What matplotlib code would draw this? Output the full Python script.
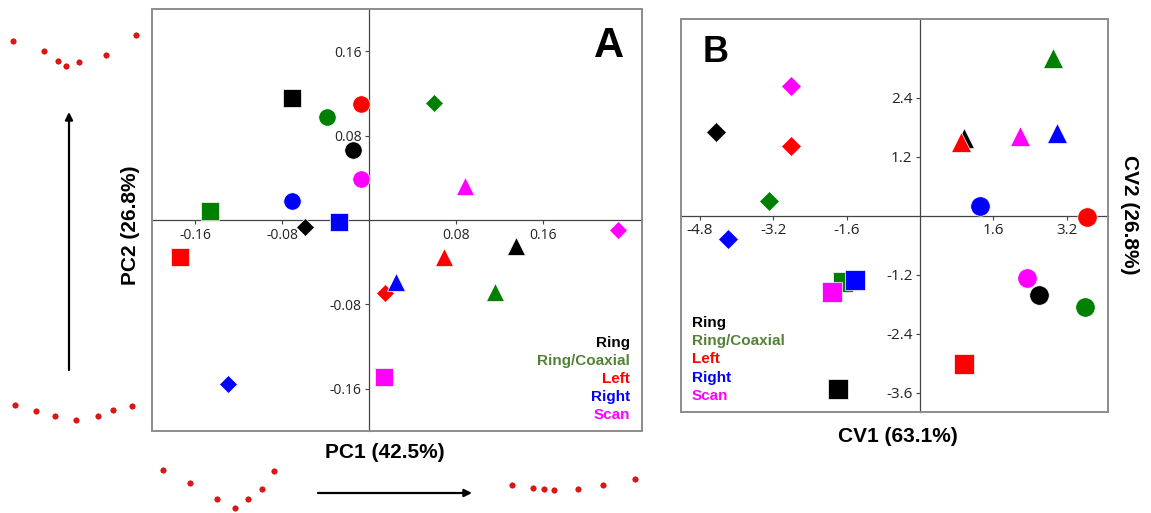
import matplotlib
matplotlib.use("Agg")
import matplotlib.pyplot as plt
from matplotlib.patches import Rectangle

# ---- data -------------------------------------------------------------
groups = ["Ring", "Ring/Coaxial", "Left", "Right", "Scan"]
marker_colors = ["#000000", "#008000", "#ff0000", "#0000ff", "#ff00ff"]
legend_colors = ["#000000", "#548235", "#ff0000", "#0000ff", "#ff00ff"]
shapes = ["s", "o", "D", "^"]

# PCA scores: one row per group, columns follow `shapes`
pc1 = [
    [-0.071, -0.015, -0.059, 0.135],
    [-0.147, -0.039, 0.060, 0.116],
    [-0.174, -0.007, 0.015, 0.069],
    [-0.028, -0.071, -0.130, 0.025],
    [0.014, -0.007, 0.229, 0.088],
]
pc2 = [
    [0.116, 0.066, -0.007, -0.025],
    [0.009, 0.098, 0.111, -0.068],
    [-0.035, 0.110, -0.069, -0.035],
    [-0.002, 0.018, -0.156, -0.059],
    [-0.149, 0.039, -0.009, 0.032],
]

# CVA scores
cv1 = [
    [-1.80, 2.59, -4.46, 0.97],
    [-1.67, 3.59, -3.30, 2.91],
    [0.95, 3.64, -2.82, 0.90],
    [-1.42, 1.31, -4.20, 2.98],
    [-1.93, 2.34, -2.82, 2.19],
]
cv2 = [
    [-3.53, -1.62, 1.71, 1.59],
    [-1.34, -1.85, 0.29, 3.20],
    [-3.02, -0.02, 1.41, 1.49],
    [-1.31, 0.20, -0.48, 1.69],
    [-1.56, -1.26, 2.64, 1.63],
]

pc_xticks = [-0.16, -0.08, 0.08, 0.16]
pc_yticks = [-0.16, -0.08, 0.08, 0.16]
cv_xticks = [-4.8, -3.2, -1.6, 1.6, 3.2]
cv_yticks = [-3.6, -2.4, -1.2, 1.2, 2.4]

# landmark outlines illustrating the extremes of the PC axes (pixel space)
shape_top_x = [13, 44, 58, 66, 79, 106, 136]
shape_top_y = [41, 51, 61, 66, 62, 55, 35]
shape_bottom_x = [15, 36, 55, 76, 98, 113, 132]
shape_bottom_y = [405, 411, 416, 420, 416, 410, 406]
shape_left_x = [163, 190, 217, 235, 248, 262, 274]
shape_left_y = [470, 483, 499, 508, 499, 489, 471]
shape_right_x = [512, 533, 544, 554, 578, 603, 635]
shape_right_y = [485, 488, 489, 490, 489, 485, 479]

# ---- figure -----------------------------------------------------------
plt.rcParams["axes.unicode_minus"] = False
W, H = 1151, 513
fig = plt.figure(figsize=(W / 100, H / 100), dpi=100)

tick_font = ["Open Sans", "DejaVu Sans"]
bold_font = ["Liberation Sans", "DejaVu Sans"]

# overlay for the landmark outlines and arrows
ov = fig.add_axes([0, 0, 1, 1], zorder=0)
ov.set_xlim(0, W)
ov.set_ylim(H, 0)
ov.axis("off")
for xs, ys in [(shape_top_x, shape_top_y), (shape_bottom_x, shape_bottom_y),
               (shape_left_x, shape_left_y), (shape_right_x, shape_right_y)]:
    ov.plot(xs, ys, ls="none", marker="o", ms=3.9, color="#e31414",
            mec="#c00000", mew=0.4)
ov.annotate("", xy=(69, 112), xytext=(69, 370),
            arrowprops=dict(arrowstyle="-|>", lw=1.6, color="black",
                            mutation_scale=11, shrinkA=0, shrinkB=0))
ov.annotate("", xy=(472, 493), xytext=(318, 493),
            arrowprops=dict(arrowstyle="-|>", lw=1.6, color="black",
                            mutation_scale=11, shrinkA=0, shrinkB=0))


def style_axes(ax, xticks, yticks, fs, fmt):
    for side in ["top", "right"]:
        ax.spines[side].set_visible(False)
    for side in ["left", "bottom"]:
        ax.spines[side].set_position(("data", 0))
        ax.spines[side].set_color("#444444")
        ax.spines[side].set_linewidth(0.9)
    ax.add_patch(Rectangle((0, 0), 1, 1, transform=ax.transAxes, fill=False,
                           ec="#8c8c8c", lw=1.4, clip_on=False, zorder=5))
    ax.set_xticks(xticks)
    ax.set_yticks(yticks)
    ax.set_xticklabels([fmt(v) for v in xticks], family=tick_font, fontsize=fs,
                       color="#222222")
    ax.set_yticklabels([fmt(v) for v in yticks], family=tick_font, fontsize=fs,
                       color="#222222")
    ax.tick_params(direction="out", length=3, width=0.8, color="#444444", pad=2.5)
    ax.set_facecolor("none")


def draw_points(ax, xs, ys, sizes):
    for gi in range(len(groups)):
        for si, mk in enumerate(shapes):
            ax.plot(xs[gi][si], ys[gi][si], ls="none", marker=mk,
                    ms=sizes[mk], color=marker_colors[gi], mec="white",
                    mew=0.5, zorder=3, clip_on=False)


# ---- panel A: PCA -----------------------------------------------------
axA = fig.add_axes([152 / W, 1 - 431 / H, 489.5 / W, 421.7 / H], zorder=1)
axA.set_xlim(-0.2, 0.251)
axA.set_ylim(-0.2002, 0.2)
style_axes(axA, pc_xticks, pc_yticks, 10, lambda v: f"{v:.2f}")
draw_points(axA, pc1, pc2, {"s": 13, "o": 12.5, "D": 9.6, "^": 13.5})

for i, g in enumerate(groups):
    fig.text(630 / W, 1 - (343 + 18 * i) / H, g, ha="right", va="center",
             fontsize=11, fontweight="bold", family=bold_font,
             color=legend_colors[i])
fig.text(609 / W, 1 - 46 / H, "A", ha="center", va="center", fontsize=30,
         fontweight="bold", family=bold_font)
fig.text(385 / W, 1 - 453 / H, "PC1 (42.5%)", ha="center", va="center",
         fontsize=15, fontweight="bold", family=bold_font)
fig.text(130 / W, 1 - 225 / H, "PC2 (26.8%)", ha="center", va="center",
         rotation=90, fontsize=15, fontweight="bold", family=bold_font)

# ---- panel B: CVA -----------------------------------------------------
axB = fig.add_axes([681 / W, 1 - 411.7 / H, 427.3 / W, 392.4 / H], zorder=1)
axB.set_xlim(-5.215, 4.108)
axB.set_ylim(-3.986, 3.995)
style_axes(axB, cv_xticks, cv_yticks, 11, lambda v: f"{v:.1f}")
draw_points(axB, cv1, cv2, {"s": 14, "o": 14, "D": 10.2, "^": 14.5})

for i, g in enumerate(groups):
    fig.text(692 / W, 1 - (323 + 18.2 * i) / H, g, ha="left", va="center",
             fontsize=11, fontweight="bold", family=bold_font,
             color=legend_colors[i])
fig.text(716 / W, 1 - 52 / H, "B", ha="center", va="center", fontsize=26,
         fontweight="bold", family=bold_font)
fig.text(898 / W, 1 - 437 / H, "CV1 (63.1%)", ha="center", va="center",
         fontsize=15, fontweight="bold", family=bold_font)
fig.text(1130 / W, 1 - 215 / H, "CV2 (26.8%)", ha="center", va="center",
         rotation=-90, fontsize=15, fontweight="bold", family=bold_font)

fig.savefig("out.png", dpi=100, facecolor="white")
